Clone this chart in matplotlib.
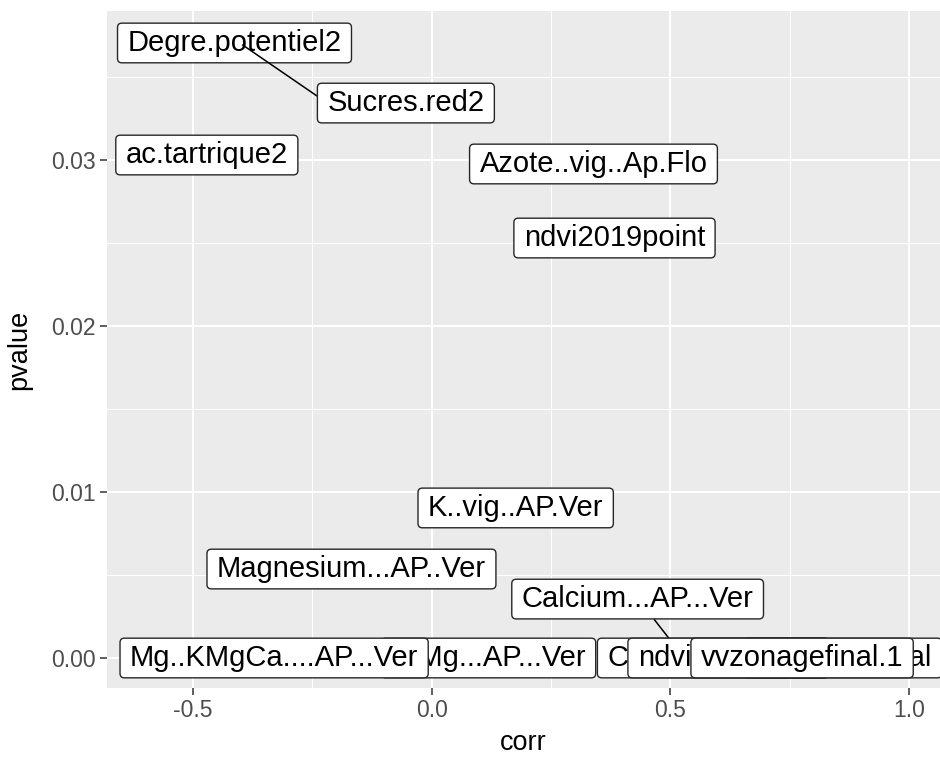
import matplotlib.pyplot as plt
from matplotlib.patches import BoxStyle
from matplotlib.ticker import MultipleLocator

plt.rcParams['font.family'] = ['Liberation Sans', 'DejaVu Sans']

# correlation / p-value per variable (plot order = drawing order)
variables = ['Degre.potentiel2', 'Sucres.red2', 'ac.tartrique2', 'Azote..vig..Ap.Flo',
             'ndvi2019point', 'K..vig..AP.Ver', 'Magnesium...AP..Ver', 'Calcium...AP...Ver',
             'K.Mg...AP...Ver', 'Mg..KMgCa....AP...Ver', 'Cuivre...AP...Ver',
             'ndvi2020point', 'vvzonagefinal', 'vvzonagefinal.1']
corr = [-0.413, -0.396, -0.471, 0.339, 0.383, 0.176, -0.168, 0.526,
        0.119, -0.330, 0.589, 0.622, 0.861, 0.776]
pvalue = [0.03705, 0.03693, 0.0303, 0.02976, 0.0253, 0.00904, 0.00536, 0.00012,
          0.0, 0.0, 0.0, 0.0, 0.0, 0.0]

# labels pushed away from their point (repel result): offset and segment anchor
repel = {'Sucres.red2': ((0.342, -0.0035), (0.0, 0.5)),
         'Calcium...AP...Ver': ((-0.0945, 0.00343), (0.55, 0.0))}


class LabelBox(BoxStyle.Round):
    # rounded box with a bit more room left and right, like geom_label
    def __call__(self, x0, y0, width, height, mutation_size):
        extra = 0.14 * mutation_size
        return super().__call__(x0 - extra, y0, width + 2 * extra, height, mutation_size)


fig = plt.figure(figsize=(9.4, 7.58), dpi=100)
ax = fig.add_axes([107/940, 70/758, 833/940, 677/758])
ax.set_facecolor('#EBEBEB')
for s in ax.spines.values():
    s.set_visible(False)

ax.set_xlim(-0.6801, 1.0649)
ax.set_ylim(-0.001807, 0.038976)
ax.xaxis.set_major_locator(MultipleLocator(0.5))
ax.xaxis.set_minor_locator(MultipleLocator(0.25))
ax.yaxis.set_major_locator(MultipleLocator(0.01))
ax.yaxis.set_minor_locator(MultipleLocator(0.005))
ax.xaxis.set_major_formatter(lambda v, p: f'{v:.1f}')
ax.yaxis.set_major_formatter(lambda v, p: f'{v:.2f}')
ax.grid(which='major', color='white', lw=1.5)
ax.grid(which='minor', color='white', lw=0.75)
ax.set_axisbelow(True)
ax.tick_params(which='major', direction='out', length=5, width=1.1, color='#333333',
               labelcolor='#4D4D4D', labelsize=16.5, pad=3)
ax.tick_params(which='minor', length=0)
ax.set_xlabel('corr', fontsize=19.5, labelpad=6)
ax.set_ylabel('pvalue', fontsize=19.5, labelpad=14)

box = dict(boxstyle=LabelBox(pad=0.2, rounding_size=0.15), fc='white', ec='#262626', lw=1.0)

for i, (name, x, y) in enumerate(zip(variables, corr, pvalue)):
    if name in repel:
        (dx, dy), rel = repel[name]
        ax.annotate(name, xy=(x, y), xytext=(x + dx, y + dy), textcoords='data',
                    ha='center', va='center', fontsize=21, bbox=box, zorder=3 + i,
                    arrowprops=dict(arrowstyle='-', color='black', lw=1.1,
                                    relpos=rel, shrinkA=0, shrinkB=0))
    else:
        ax.text(x, y, name, ha='center', va='center', fontsize=21, bbox=box, zorder=3 + i)

fig.savefig('out.png', dpi=100)
